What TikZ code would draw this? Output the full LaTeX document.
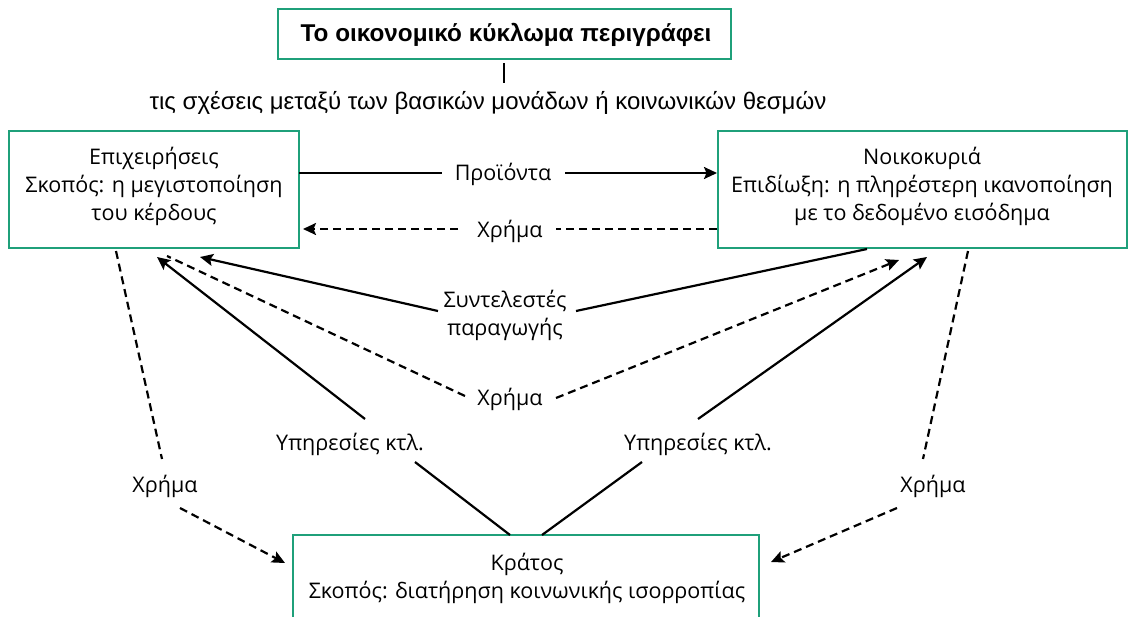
\documentclass[tikz,border=0pt]{standalone}
\usepackage{fontspec}
\setmainfont{Open Sans}
\newfontfamily\arialfont{Liberation Sans}
\usetikzlibrary{arrows.meta,calc}
\definecolor{boxgreen}{HTML}{1FA07A}
\begin{document}
\begin{tikzpicture}[x=1pt,y=-1pt,
  box/.style={draw=boxgreen, line width=2.5pt, inner sep=0pt},
  txt/.style={font=\fontsize{21.5}{28}\selectfont, align=center, inner sep=0pt},
  conn/.style={line width=2.2pt, line cap=butt},
  dsh/.style={conn, dash pattern=on 8pt off 5pt},
  arr/.style={-{Stealth[length=13pt,width=12pt,inset=2.5pt]}}]
\useasboundingbox (0,0) rectangle (1130,616);
\clip (0,0) rectangle (1130,616);
% boxes
\node[box, minimum width=453pt, minimum height=50pt] (title) at (504.5,34) {};
\node[box, minimum width=290pt, minimum height=117pt] (firm) at (154,189.5) {};
\node[box, minimum width=409pt, minimum height=117pt] (house) at (922.5,189.5) {};
\node[box, minimum width=466pt, minimum height=115pt] (state) at (526,592.5) {};
% texts
\node[txt, font=\arialfont\bfseries\fontsize{24.3}{28}\selectfont] (titleT) at (506,35) {Το οικονομικό κύκλωμα περιγράφει};
\node[txt, font=\arialfont\fontsize{24}{28}\selectfont] (sub) at (488,103) {τις σχέσεις μεταξύ των βασικών μονάδων ή κοινωνικών θεσμών};
\node[txt] (firmT) at (154,186) {Επιχειρήσεις\\Σκοπός: η μεγιστοποίηση\\του κέρδους};
\node[txt] (houseT) at (922,186) {Νοικοκυριά\\Επιδίωξη: η πληρέστερη ικανοποίηση\\με το δεδομένο εισόδημα};
\node[txt] (stateT) at (527,578) {Κράτος\\Σκοπός: διατήρηση κοινωνικής ισορροπίας};
% labels
\node[txt] (pr) at (503,174) {Προϊόντα};
\node[txt] (m1) at (510,231) {Χρήμα};
\node[txt] (syn) at (505,315) {Συντελεστές\\παραγωγής};
\node[txt] (m2) at (510,399) {Χρήμα};
\node[txt] (yl) at (350,444) {Υπηρεσίες κτλ.};
\node[txt] (yr) at (698,444) {Υπηρεσίες κτλ.};
\node[txt] (ml) at (165,486) {Χρήμα};
\node[txt] (mr) at (933,486) {Χρήμα};
% coordinates
\coordinate (tA) at (504,63); \coordinate (tB) at (504,83);
\coordinate (prA) at (299,173); \coordinate (prB) at (442,173);
\coordinate (prC) at (565,173); \coordinate (prD) at (717,173);
\coordinate (m1A) at (717,229); \coordinate (m1B) at (556,229);
\coordinate (m1C) at (458,229); \coordinate (m1D) at (303,229);
\coordinate (synA) at (867,249); \coordinate (synB) at (576,311);
\coordinate (synC) at (438,311); \coordinate (synD) at (200,257);
\coordinate (m2A) at (465,396); \coordinate (m2B) at (167,256);
\coordinate (m2C) at (556,398); \coordinate (m2D) at (899,260);
\coordinate (ylA) at (510,535); \coordinate (ylB) at (415,462);
\coordinate (ylC) at (365,419); \coordinate (ylD) at (157,257);
\coordinate (yrA) at (542,535); \coordinate (yrB) at (642,462);
\coordinate (yrC) at (698,419); \coordinate (yrD) at (927,257);
\coordinate (mlA) at (116,251); \coordinate (mlB) at (162,459);
\coordinate (mlC) at (180,508); \coordinate (mlD) at (285,563);
\coordinate (mrA) at (968,251); \coordinate (mrB) at (923,459);
\coordinate (mrC) at (897,508); \coordinate (mrD) at (771,562);
% connectors
\draw[conn] (tA) -- (tB);
\draw[conn] (prA) -- (prB);
\draw[conn,arr] (prC) -- (prD);
\draw[dsh] (m1A) -- (m1B);
\draw[dsh,arr] (m1C) -- (m1D);
\draw[conn] (synA) -- (synB);
\draw[conn,arr] (synC) -- (synD);
\draw[dsh] (m2A) -- (m2B);
\draw[dsh,arr] (m2C) -- (m2D);
\draw[conn] (ylA) -- (ylB);
\draw[conn,arr] (ylC) -- (ylD);
\draw[conn] (yrA) -- (yrB);
\draw[conn,arr] (yrC) -- (yrD);
\draw[dsh] (mlA) -- (mlB);
\draw[dsh,arr] (mlC) -- (mlD);
\draw[dsh] (mrA) -- (mrB);
\draw[dsh,arr] (mrC) -- (mrD);
\end{tikzpicture}
\end{document}
